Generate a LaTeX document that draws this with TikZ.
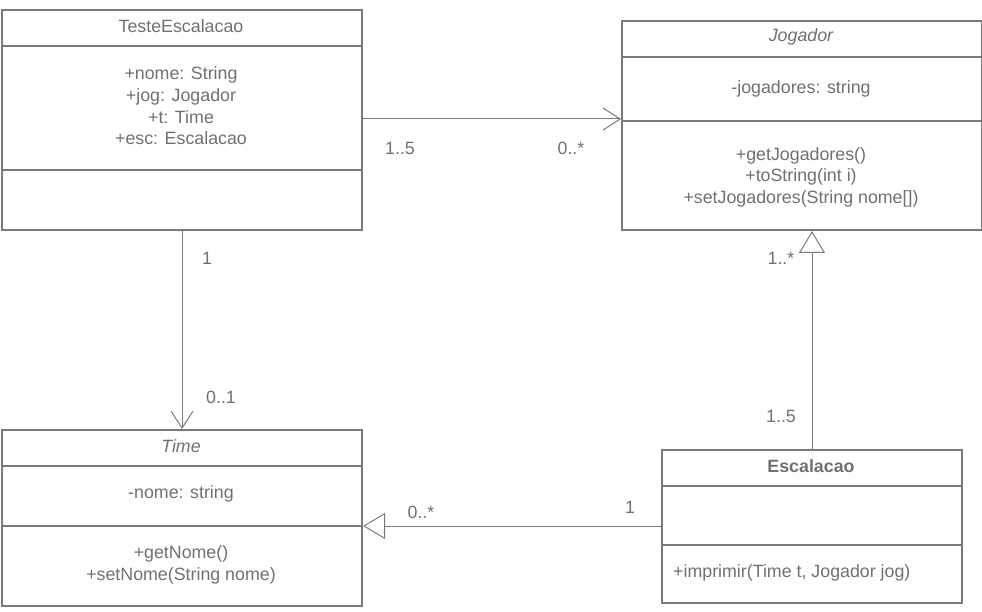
\documentclass[tikz,border=0pt]{standalone}
\usepackage{fontspec}
\setmainfont{Liberation Sans}
\usetikzlibrary{arrows.meta,positioning,calc}
\definecolor{umlline}{RGB}{122,122,122}
\definecolor{umltext}{RGB}{112,112,112}
\tikzset{
  classbox/.style={draw=umlline,line width=2pt,anchor=north west,inner sep=0pt},
  divider/.style={draw=umlline,line width=2pt},
  umltxt/.style={text=umltext,font=\fontsize{17.8}{21.6}\selectfont,align=center,inner sep=0pt},
  mult/.style={text=umltext,font=\fontsize{17.8}{20}\selectfont,inner sep=0pt},
  assoc/.style={draw=umlline,line width=1pt,-{Straight Barb[length=17pt,width=22pt]}},
  inherit/.style={draw=umlline,line width=1pt,-{Triangle[open,fill=white,length=22pt,width=26pt]}}
}

\begin{document}
\begin{tikzpicture}[x=1pt,y=-1pt]
\useasboundingbox (0,0) rectangle (982,612);
% classes
\node[classbox,minimum width=360pt,minimum height=220pt] (teste) at (1,9) {};
\draw[divider] (teste.west |- 0,46) -- (teste.east |- 0,46);
\draw[divider] (teste.west |- 0,170) -- (teste.east |- 0,170);
\node[umltxt] (testeName) at (181,26) {TesteEscalacao};
\node[umltxt] (testeAttr) at (181,106) {+nome: String\\+jog: Jogador\\+t: Time\\+esc: Escalacao};

\node[classbox,minimum width=360pt,minimum height=209pt] (jog) at (621,20) {};
\draw[divider] (jog.west |- 0,57) -- (jog.east |- 0,57);
\draw[divider] (jog.west |- 0,121) -- (jog.east |- 0,121);
\node[umltxt,font=\fontsize{17.8}{21.6}\selectfont\itshape] (jogName) at (801,37) {Jogador};
\node[umltxt] (jogAttr) at (801,89) {-jogadores: string};
\node[umltxt] (jogOps) at (801,177) {+getJogadores()\\+toString(int i)\\+setJogadores(String nome[])};

\node[classbox,minimum width=360pt,minimum height=176pt] (time) at (1,429) {};
\draw[divider] (time.west |- 0,466) -- (time.east |- 0,466);
\draw[divider] (time.west |- 0,526) -- (time.east |- 0,526);
\node[umltxt,font=\fontsize{17.8}{21.6}\selectfont\itshape] (timeName) at (181,446) {Time};
\node[umltxt] (timeAttr) at (181,494) {-nome: string};
\node[umltxt] (timeOps) at (181,565) {+getNome()\\+setNome(String nome)};

\node[classbox,minimum width=300pt,minimum height=153pt] (esc) at (661,449) {};
\draw[divider] (esc.west |- 0,486) -- (esc.east |- 0,486);
\draw[divider] (esc.west |- 0,545) -- (esc.east |- 0,545);
\node[umltxt,font=\fontsize{17.8}{21.6}\selectfont\bfseries] (escName) at (811,466) {Escalacao};
\node[umltxt,anchor=west] (escOps) at (673,573) {+imprimir(Time t, Jogador jog)};

% relations
\draw[assoc] (teste.east |- 0,119) -- (jog.west |- 0,119);
\draw[assoc] (teste.south) -- (time.north);
\draw[inherit] (esc.north) -- (esc.north |- jog.south);
\draw[inherit] (esc.west |- 0,526) -- (time.east |- 0,526);

% multiplicities
\node[mult] (m1) at (400,148) {1..5};
\node[mult] (m2) at (571,148) {0..*};
\node[mult] (m3) at (207,258) {1};
\node[mult] (m4) at (221,397) {0..1};
\node[mult] (m5) at (781,258) {1..*};
\node[mult] (m6) at (781,416) {1..5};
\node[mult] (m7) at (421,512) {0..*};
\node[mult] (m8) at (630,507) {1};
\end{tikzpicture}
\end{document}
